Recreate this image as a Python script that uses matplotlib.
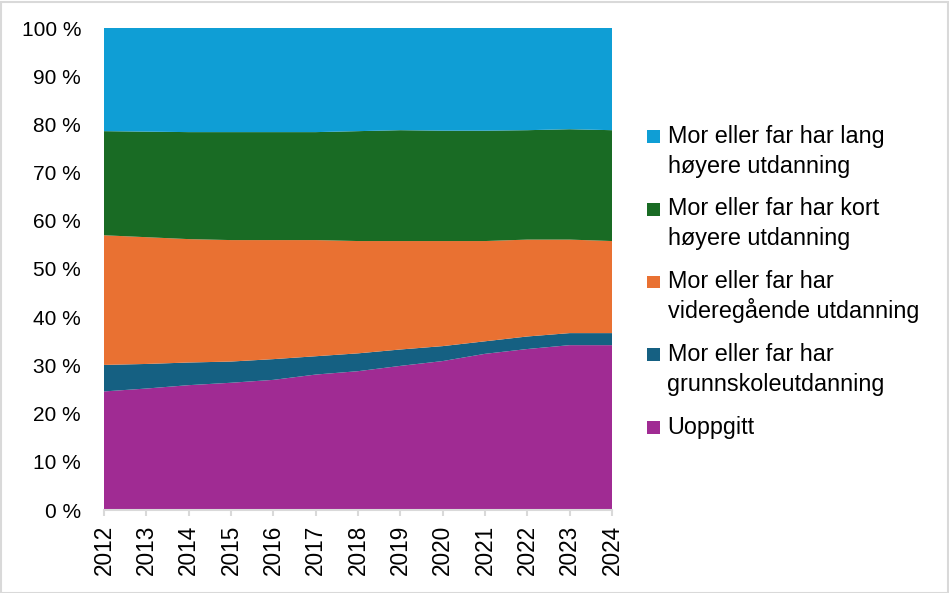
import matplotlib
matplotlib.use("Agg")
import matplotlib.pyplot as plt
from matplotlib.patches import Rectangle
from matplotlib.ticker import FuncFormatter

plt.rcParams['font.family'] = ['Liberation Sans', 'DejaVu Sans']

years = list(range(2012, 2025))
uoppgitt = [24.6, 25.2, 25.9, 26.4, 27.0, 28.1, 28.8, 29.9, 30.9, 32.4, 33.4, 34.2, 34.2]
grunnskole = [5.5, 5.1, 4.7, 4.4, 4.3, 3.8, 3.7, 3.4, 3.1, 2.6, 2.6, 2.5, 2.5]
videregaende = [26.9, 26.3, 25.6, 25.2, 24.7, 24.1, 23.3, 22.5, 21.8, 20.8, 20.1, 19.4, 19.1]
kort_hoyere = [21.6, 21.9, 22.2, 22.4, 22.4, 22.4, 22.8, 23.0, 22.9, 22.9, 22.7, 22.9, 23.0]
lang_hoyere = [21.4, 21.5, 21.6, 21.6, 21.6, 21.6, 21.4, 21.2, 21.3, 21.3, 21.2, 21.0, 21.2]

labels = [
    "Uoppgitt",
    "Mor eller far har\ngrunnskoleutdanning",
    "Mor eller far har\nvideregående utdanning",
    "Mor eller far har kort\nhøyere utdanning",
    "Mor eller far har lang\nhøyere utdanning",
]
colors = ["#A02B93", "#156082", "#E97132", "#196B24", "#0F9ED5"]

W, H = 949, 593
fig = plt.figure(figsize=(W / 100, H / 100), dpi=100)
ax = fig.add_axes([104 / W, 1 - 510 / H, (612 - 104) / W, (510 - 28) / H])

polys = ax.stackplot(years, uoppgitt, grunnskole, videregaende, kort_hoyere, lang_hoyere,
                     colors=colors, labels=labels, linewidth=0)

ax.set_xlim(2012, 2024)
ax.set_ylim(0, 100)
ax.set_yticks(range(0, 101, 10))
ax.yaxis.set_major_formatter(FuncFormatter(lambda v, p: f"{int(v)} %"))
ax.set_xticks(years)
ax.set_xticklabels([str(y) for y in years], rotation=90)

for s in ["top", "right", "left"]:
    ax.spines[s].set_visible(False)
ax.spines["bottom"].set_color("#D9D9D9")
ax.spines["bottom"].set_linewidth(1.5)
ax.tick_params(axis="y", length=0, pad=16.5, labelsize=15)
ax.tick_params(axis="x", length=4.3, width=1.5, color="#D9D9D9", labelsize=16.3, pad=6.5)


# Legend drawn in pixel positions (top entry = last series), square aligned with first line
def px(x, y):
    return x / W, 1 - y / H


first_baseline = 142.5
entry_step = 72.8
line_step = 30.2
for i, (lab, col) in enumerate(zip(labels[::-1], colors[::-1])):
    base = first_baseline + i * entry_step
    sx, sy = px(647.3, base + 0.3)
    fig.patches.append(Rectangle((sx, sy), 13.2 / W, 12.8 / H, transform=fig.transFigure,
                                 facecolor=col, edgecolor="none"))
    for j, line in enumerate(lab.split("\n")):
        tx, ty = px(667.5, base + j * line_step)
        fig.text(tx, ty, line, fontsize=16.8, va="baseline", ha="left", color="black")

fig.patches.append(Rectangle((0.5 / W, 0.5 / H), 1 - 2 / W, 1 - 2 / H,
                             transform=fig.transFigure, fill=False,
                             edgecolor="#D9D9D9", linewidth=1.5))

fig.savefig("out.png", dpi=100)
